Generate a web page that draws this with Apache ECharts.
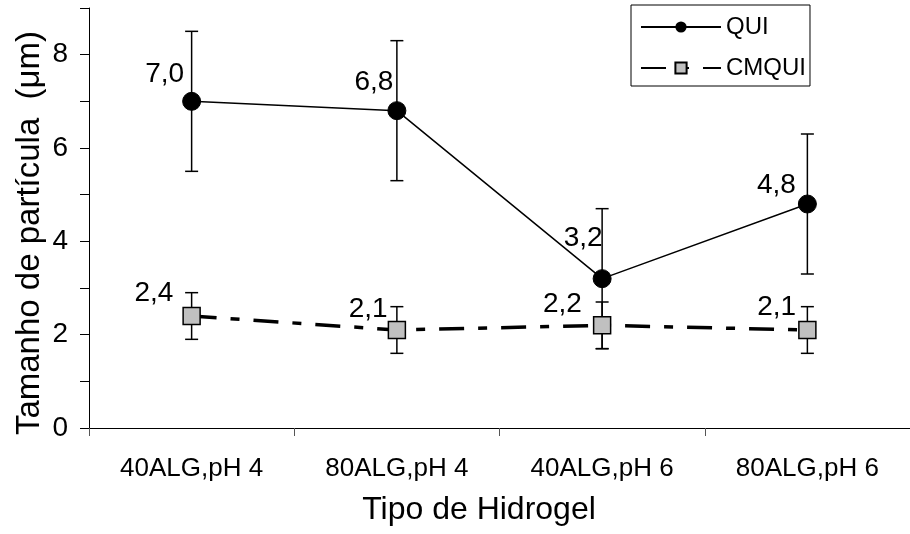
<!DOCTYPE html>
<html>
<head>
<meta charset="utf-8">
<script src="https://cdn.jsdelivr.net/npm/echarts@6/dist/echarts.min.js"></script>
<style>
  html, body { margin: 0; padding: 0; background: #fff; }
  #chart { width: 910px; height: 534px; }
</style>
</head>
<body>
<div id="chart"></div>
<script>
const categories = ['40ALG,pH 4', '80ALG,pH 4', '40ALG,pH 6', '80ALG,pH 6']
const quiValues = [7.0, 6.8, 3.2, 4.8]
const quiErrors = [1.5, 1.5, 1.5, 1.5]
const cmquiValues = [2.4, 2.1, 2.2, 2.1]
const cmquiErrors = [0.5, 0.5, 0.5, 0.5]
const yTicks = [0, 2, 4, 6, 8]

// where each value label sits, relative to its marker box (hand placed, like the original)
const quiLabelPos = [[2, -18], [6, -19], [10, -31], [-2, -9]]
const cmquiLabelPos = [[-9, -13], [0, -11], [-11, -12], [-2, -13]]

const font = 'Liberation Sans, Arial, sans-serif'

function fmt(v) {
  return v.toFixed(1).replace('.', ',')
}

function errorData(values, errors) {
  return values.map((v, i) => [i, v - errors[i], v + errors[i]])
}

function renderErrorBar(params, api) {
  const x = api.value(0)
  const lo = api.coord([x, api.value(1)])
  const hi = api.coord([x, api.value(2)])
  const cap = 6.5
  const style = { stroke: '#000', lineWidth: 1.5 }
  return {
    type: 'group',
    children: [
      { type: 'line', shape: { x1: lo[0], y1: lo[1], x2: hi[0], y2: hi[1] }, style: style },
      { type: 'line', shape: { x1: hi[0] - cap, y1: hi[1], x2: hi[0] + cap, y2: hi[1] }, style: style },
      { type: 'line', shape: { x1: lo[0] - cap, y1: lo[1], x2: lo[0] + cap, y2: lo[1] }, style: style }
    ]
  }
}

function withLabels(values, posList) {
  return values.map((v, i) => ({
    value: v,
    label: { position: posList[i] }
  }))
}

const chart = echarts.init(document.getElementById('chart'))

chart.setOption({
  animation: false,
  textStyle: { fontFamily: font, color: '#000' },
  grid: {
    left: 89,
    right: -9,
    top: 8,
    bottom: 106
  },
  legend: {
    data: ['QUI', 'CMQUI'],
    orient: 'vertical',
    left: 631,
    top: 5,
    padding: [10, 4, 6, 9],
    itemGap: 17,
    itemWidth: 80,
    itemHeight: 14,
    borderColor: '#000',
    borderWidth: 1,
    textStyle: { fontSize: 24, color: '#000', fontFamily: font }
  },
  xAxis: {
    type: 'category',
    data: categories,
    axisLine: { lineStyle: { color: '#000', width: 1 } },
    axisTick: { show: true, length: 8, lineStyle: { color: '#555' } },
    axisLabel: { fontSize: 26, color: '#000', margin: 28, fontFamily: font }
  },
  yAxis: {
    type: 'value',
    min: 0,
    max: 9,
    interval: 1,
    axisLine: { show: true, lineStyle: { color: '#000', width: 1 } },
    axisTick: { show: true, length: 9, lineStyle: { color: '#000' } },
    splitLine: { show: false },
    axisLabel: {
      fontSize: 28,
      color: '#000',
      margin: 21,
      fontFamily: font,
      formatter: v => (yTicks.indexOf(v) >= 0 ? String(v) : '')
    }
  },
  graphic: [
    {
      type: 'text',
      x: 30,
      y: 233,
      rotation: Math.PI / 2,
      style: {
        text: 'Tamanho de partícula  (μm)',
        font: '33px ' + font,
        fill: '#000',
        align: 'center',
        verticalAlign: 'middle'
      }
    },
    {
      type: 'text',
      x: 479,
      y: 510,
      style: {
        text: 'Tipo de Hidrogel',
        font: '32px ' + font,
        fill: '#000',
        align: 'center',
        verticalAlign: 'middle'
      }
    }
  ],
  series: [
    {
      type: 'custom',
      name: 'errQUI',
      renderItem: renderErrorBar,
      data: errorData(quiValues, quiErrors),
      z: 1
    },
    {
      type: 'custom',
      name: 'errCMQUI',
      renderItem: renderErrorBar,
      data: errorData(cmquiValues, cmquiErrors),
      z: 1
    },
    {
      name: 'QUI',
      type: 'line',
      data: withLabels(quiValues, quiLabelPos),
      symbol: 'circle',
      symbolSize: 18,
      itemStyle: { color: '#000', borderColor: '#000' },
      lineStyle: { color: '#000', width: 1.5 },
      label: {
        show: true,
        align: 'right',
        verticalAlign: 'middle',
        fontSize: 28,
        color: '#000',
        fontFamily: font,
        formatter: p => fmt(p.value)
      },
      z: 3
    },
    {
      name: 'CMQUI',
      type: 'line',
      data: withLabels(cmquiValues, cmquiLabelPos),
      symbol: 'rect',
      symbolSize: 17,
      itemStyle: { color: '#c0c0c0', borderColor: '#000', borderWidth: 1.5 },
      lineStyle: { color: '#000', width: 3.5, type: [25, 14, 9, 14] },
      label: {
        show: true,
        align: 'right',
        verticalAlign: 'middle',
        fontSize: 28,
        color: '#000',
        fontFamily: font,
        formatter: p => fmt(p.value)
      },
      z: 3
    }
  ]
})
</script>
</body>
</html>
